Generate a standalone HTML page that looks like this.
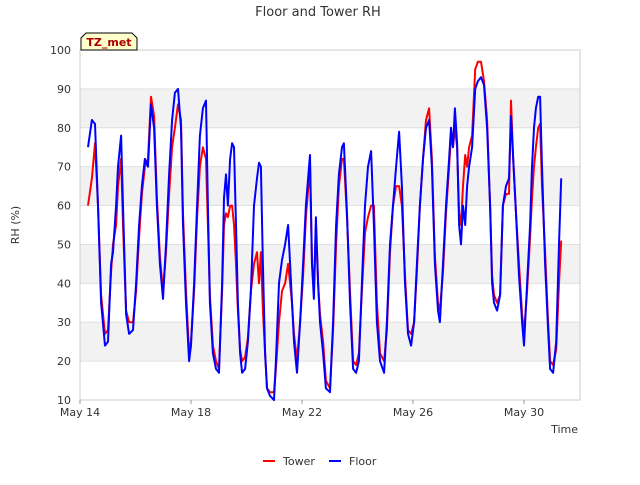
<!DOCTYPE html>
<html><head><meta charset="utf-8"><style>
body{margin:0;background:#fff;font-family:"Liberation Sans","DejaVu Sans",sans-serif}
svg text{font-family:"DejaVu Sans","Liberation Sans",sans-serif}
</style></head><body>
<svg id="chart" width="640" height="480">
<text x="318" y="16" text-anchor="middle" font-size="13" fill="#333">Floor and Tower RH</text>
<g id="bands"></g><g id="grid"></g>
<rect x="80" y="50" width="500" height="350" fill="none" stroke="#ccc"/>
<g id="yticks"></g><g id="xticks"></g>
<g id="series"></g>
<g>
<path d="M81,50 L81,38 L86,33 L132,33 L137,38 L137,50 Z" fill="#ffffcc" stroke="#000"/>
<text x="109" y="46" text-anchor="middle" font-size="11" font-weight="bold" fill="#aa0000">TZ_met</text></g>
<text x="19" y="225" transform="rotate(-90 19 225)" text-anchor="middle" font-size="11" fill="#333">RH (%)</text>
<text x="578" y="433" text-anchor="end" font-size="11" fill="#333">Time</text>
<g><line x1="263" y1="461" x2="275" y2="461" stroke="red" stroke-width="2"/><text x="283" y="465" font-size="11" fill="#333">Tower</text></g>
<g><line x1="329" y1="461" x2="341" y2="461" stroke="blue" stroke-width="2"/><text x="349" y="465" font-size="11" fill="#333">Floor</text></g>
</svg>
<script>
const times=[0.29,0.43,0.54,0.65,0.76,0.90,1.01,1.12,1.19,1.30,1.37,1.48,1.55,1.66,1.77,1.91,2.02,2.13,2.23,2.34,2.45,2.56,2.67,2.77,2.88,2.99,3.10,3.21,3.32,3.42,3.53,3.64,3.71,3.82,3.93,4.00,4.11,4.22,4.32,4.43,4.54,4.61,4.68,4.79,4.90,5.01,5.12,5.19,5.26,5.33,5.41,5.48,5.55,5.62,5.69,5.77,5.84,5.95,6.05,6.16,6.27,6.38,6.45,6.52,6.59,6.67,6.74,6.85,6.99,7.06,7.17,7.28,7.39,7.50,7.57,7.64,7.71,7.82,7.93,8.04,8.14,8.29,8.36,8.43,8.50,8.58,8.65,8.76,8.86,9.01,9.12,9.23,9.33,9.44,9.51,9.62,9.73,9.84,9.95,10.05,10.16,10.27,10.38,10.49,10.59,10.70,10.81,10.96,11.06,11.17,11.28,11.39,11.50,11.60,11.71,11.82,11.93,12.04,12.14,12.25,12.36,12.47,12.58,12.68,12.79,12.90,12.97,13.08,13.19,13.30,13.37,13.44,13.51,13.59,13.66,13.73,13.80,13.88,13.95,14.02,14.13,14.24,14.34,14.45,14.56,14.67,14.78,14.85,14.92,15.03,15.14,15.24,15.35,15.46,15.53,15.61,15.71,15.82,15.93,16.00,16.11,16.22,16.29,16.36,16.43,16.51,16.58,16.65,16.76,16.87,16.94,17.05,17.16,17.26,17.34];
const floorRH=[75,82,81,60,35,24,25,45,48,60,70,78,60,32,27,28,40,55,65,72,70,86,80,60,45,36,50,68,82,89,90,80,55,35,20,24,40,60,78,85,87,60,35,22,18,17,40,62,68,60,72,76,75,55,35,22,17,18,25,38,60,67,71,70,45,22,13,11,10,20,40,46,50,55,45,35,25,17,30,45,60,73,45,36,57,40,30,22,13,12,30,55,68,75,76,58,35,18,17,20,40,60,70,74,55,30,20,17,30,50,60,70,79,65,40,27,24,30,45,60,72,80,82,70,45,33,30,45,60,72,80,75,85,76,55,50,60,55,65,70,75,90,92,93,91,80,60,40,35,33,37,60,65,67,83,72,58,42,30,24,40,55,70,80,85,88,88,70,45,28,18,17,25,50,67];
const towerRH=[60,67,76,60,37,27,28,43,50,55,65,72,55,33,30,30,38,52,63,70,72,88,83,62,47,38,48,63,75,80,86,82,58,38,22,25,38,57,70,75,72,55,37,24,20,18,38,55,58,57,60,60,55,45,33,23,20,21,26,38,45,48,40,48,33,22,13,12,12,18,30,38,40,45,40,35,27,20,30,42,57,70,45,38,55,40,32,25,15,13,28,50,65,72,72,57,38,20,19,22,38,53,57,60,60,35,22,20,28,48,60,65,65,60,42,28,27,30,43,60,72,82,85,72,47,35,33,43,58,70,78,75,80,75,58,55,65,73,70,75,78,95,97,97,92,82,60,42,37,35,37,60,63,63,87,72,58,45,32,27,38,52,62,70,75,80,81,65,48,30,20,19,23,40,51];
const yTicks=[10,20,30,40,50,60,70,80,90,100];
const xTickDays=[0,4,8,12,16];
const xTickLabels=["May 14","May 18","May 22","May 26","May 30"];
const NS="http://www.w3.org/2000/svg";
const X=d=>80+d*27.75, Y=v=>400-(v-10)*350/90;
function mk(tag,attrs,parent){const e=document.createElementNS(NS,tag);for(const k in attrs)e.setAttribute(k,attrs[k]);document.getElementById(parent).appendChild(e);return e;}
for(let i=0;i<yTicks.length-1;i++){ if(i%2===1){const b=mk('rect',{x:80,y:Y(yTicks[i+1]),width:500,height:Y(yTicks[i])-Y(yTicks[i+1]),fill:'#f2f2f2'},'bands');

}}
yTicks.forEach(v=>{const l=mk('line',{x1:80,x2:580,y1:Y(v),y2:Y(v),stroke:'#e0e0e0'},'grid');


const t=mk('text',{x:71,y:Y(v)+4,'text-anchor':'end','font-size':11,fill:'#333'},'yticks');t.textContent=v;

});
xTickDays.forEach((d,i)=>{mk('line',{x1:X(d),x2:X(d),y1:400,y2:404,stroke:'#999'},'xticks');
const t=mk('text',{x:X(d),y:416,'text-anchor':'middle','font-size':11,fill:'#333'},'xticks');t.textContent=xTickLabels[i];

});
function line(vals,color,name){const n=Math.min(times.length,vals.length);let d='';for(let i=0;i<n;i++)d+=(i?'L':'M')+X(times[i]).toFixed(1)+','+Y(vals[i]).toFixed(1);
const p=mk('path',{d:d,fill:'none',stroke:color,'stroke-width':2,'stroke-linejoin':'round'},'series');

}
line(towerRH,'red','tower-line');
line(floorRH,'blue','floor-line');
</script>
</body></html>
